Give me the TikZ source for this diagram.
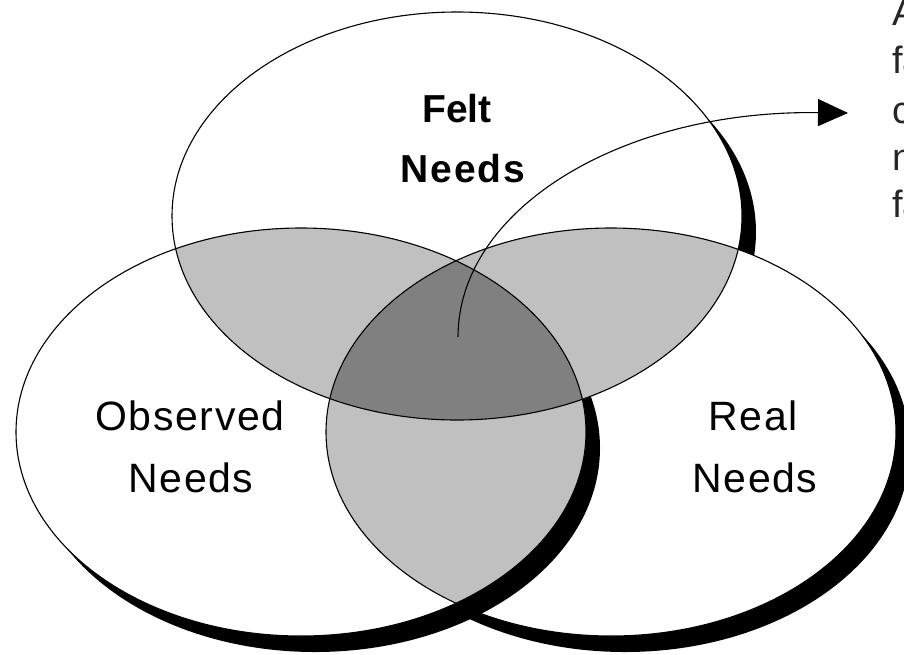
\documentclass[tikz,border=0pt]{standalone}
\usepackage{fontspec}
\setmainfont{Liberation Sans}
\usetikzlibrary{arrows.meta}
\definecolor{lightg}{HTML}{C0C0C0}
\definecolor{darkg}{HTML}{808080}
\tikzset{
  venn/.style={x radius=285pt, y radius=204pt},
  outline/.style={draw=black, line width=1.1pt},
  label/.style={inner sep=0pt, anchor=base, font=\fontsize{41}{48}\selectfont},
  boldlabel/.style={inner sep=0pt, anchor=base, font=\fontsize{39}{46}\selectfont\bfseries},
  sidetext/.style={inner sep=0pt, anchor=base west, font=\fontsize{38}{46}\selectfont, text=black!85},
  pointer/.style={line width=1.1pt, -{Triangle[length=30pt,width=27pt]}}
}
\begin{document}
\begin{tikzpicture}[x=1pt,y=-1pt]
\useasboundingbox (0,0) rectangle (904,654);
\clip (0,0) rectangle (904,654);
\fill[white] (0,0) rectangle (904,654);
\coordinate (F) at (457,216);
\coordinate (O) at (301,432);
\coordinate (R) at (611,432);
% shadows and white fills
\fill[black] ([shift={(14,16)}]F) ellipse [venn];
\fill[black] ([shift={(14,16)}]R) ellipse [venn];
\fill[white] (R) ellipse [venn];
\fill[black] ([shift={(14,16)}]O) ellipse [venn];
\fill[white] (O) ellipse [venn];
\fill[white] (F) ellipse [venn];
% pairwise overlaps
\begin{scope}
  \clip (F) ellipse [venn];
  \fill[lightg] (O) ellipse [venn];
  \fill[lightg] (R) ellipse [venn];
\end{scope}
\begin{scope}
  \clip (O) ellipse [venn];
  \fill[lightg] (R) ellipse [venn];
\end{scope}
% triple overlap
\begin{scope}
  \clip (F) ellipse [venn];
  \clip (O) ellipse [venn];
  \fill[darkg] (R) ellipse [venn];
\end{scope}
% outlines
\draw[outline] (F) ellipse [venn];
\draw[outline] (O) ellipse [venn];
\draw[outline] (R) ellipse [venn];
% pointer
\coordinate (pstart) at (458,337);
\coordinate (pend) at (848,113);
\draw[pointer] (pstart) .. controls (458,210) and (620,110) .. (pend);
% labels
\node[boldlabel] (felt1) at (457,122) {Felt};
\node[boldlabel] (felt2) at (463,182) {\addfontfeature{LetterSpace=5}Needs};
\node[label] (obs1) at (190,430) {\addfontfeature{LetterSpace=4}Observed};
\node[label] (obs2) at (191,492) {\addfontfeature{LetterSpace=4}Needs};
\node[label] (real1) at (753,430) {\addfontfeature{LetterSpace=4}Real};
\node[label] (real2) at (755,492) {\addfontfeature{LetterSpace=4}Needs};
% clipped side text
\node[sidetext] (s1) at (892,25) {A};
\node[sidetext] (s2) at (892,73) {fa};
\node[sidetext] (s3) at (892,123) {c};
\node[sidetext] (s4) at (892,170) {n};
\node[sidetext] (s5) at (892,217) {fa};
\end{tikzpicture}
\end{document}
